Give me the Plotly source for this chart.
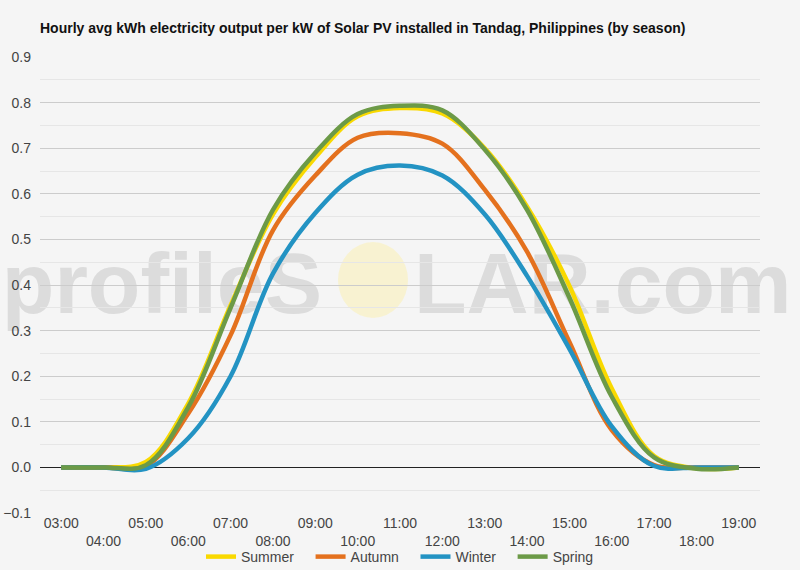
import plotly.graph_objects as go

hours = ["03:00", "04:00", "05:00", "06:00", "07:00", "08:00", "09:00", "10:00", "11:00",
         "12:00", "13:00", "14:00", "15:00", "16:00", "17:00", "18:00", "19:00"]
summer = [0, 0, 0.012, 0.14, 0.355, 0.555, 0.68, 0.77, 0.788, 0.776, 0.70, 0.572, 0.398, 0.173, 0.025, -0.002, 0]
autumn = [0, 0, 0.003, 0.118, 0.29, 0.52, 0.64, 0.723, 0.733, 0.71, 0.609, 0.473, 0.275, 0.082, 0.005, 0, 0]
winter = [0, 0, -0.003, 0.064, 0.2, 0.425, 0.558, 0.642, 0.662, 0.64, 0.555, 0.42, 0.26, 0.09, 0.003, 0, 0]
spring = [0, 0, 0.005, 0.132, 0.35, 0.565, 0.69, 0.775, 0.793, 0.783, 0.697, 0.565, 0.372, 0.155, 0.022, -0.003, 0]

series = [("Summer", summer, "#F9D900"), ("Autumn", autumn, "#E4711E"),
          ("Winter", winter, "#2393C3"), ("Spring", spring, "#6C9A47")]

tick_text = [h if i % 2 == 0 else "<br>" + h for i, h in enumerate(hours)]

fig = go.Figure()
for i, (name, vals, col) in enumerate(series):
    label = name + ("\u00a0\u00a0\u00a0" if i < len(series) - 1 else "")
    fig.add_trace(go.Scatter(x=hours, y=vals, name=label, mode="lines",
                             line=dict(color=col, width=4.5, shape="spline", smoothing=1.0)))

font_family = "Arial, Liberation Sans, sans-serif"
W, H = 800, 570
L, R, T, B = 40, 40, 57, 57
PW, PH = W - L - R, H - T - B


def px(x):
    return (x - L) / PW


def py(y):
    return (H - B - y) / PH


fig.update_layout(
    width=W, height=H,
    margin=dict(l=L, r=R, t=T, b=B, autoexpand=False),
    paper_bgcolor="#F5F5F5", plot_bgcolor="#F5F5F5",
    font=dict(family=font_family, size=14, color="#444"),
    title=dict(text="<b>Hourly avg kWh electricity output per kW of Solar PV installed in Tandag, Philippines (by season)</b>",
               x=40/W, xanchor="left", y=1-28/H, yanchor="middle",
               font=dict(size=14, color="#111", family=font_family)),
    showlegend=True,
    legend=dict(orientation="h", x=0.5, xanchor="center", yref="container", y=1-557/H, yanchor="middle",
                font=dict(size=14, color="#444"), bgcolor="rgba(0,0,0,0)", itemwidth=30,
                tracegroupgap=0),
    xaxis=dict(type="category", range=[-0.5, 16.5], showgrid=False, zeroline=False,
               showline=False, tickmode="array", tickvals=hours, ticktext=tick_text,
               tickfont=dict(size=14, color="#444"), automargin=False, ticks=""),
    yaxis=dict(range=[-0.1, 0.9], dtick=0.1, tick0=0, tickformat=".1f",
               showgrid=True, gridcolor="#CCCCCC", gridwidth=1,
               minor=dict(dtick=0.05, showgrid=True, gridcolor="#E6E6E6", gridwidth=1),
               zeroline=True, zerolinecolor="#222", zerolinewidth=1.2,
               showline=False, tickfont=dict(size=14, color="#444"), automargin=False,
               ticklabelstandoff=8, ticks=""),
)

# watermark (behind the traces)
wm_color = "#DCDCDC"
fig.add_shape(type="rect", xref="paper", yref="paper", layer="below",
              x0=px(5), x1=px(328), y0=py(322), y1=py(228),
              line=dict(width=0), fillcolor="rgba(0,0,0,0)",
              label=dict(text="<b>profileS</b>", textposition="middle right",
                         font=dict(size=86, color=wm_color, family=font_family)))
fig.add_shape(type="circle", xref="paper", yref="paper", layer="below",
              x0=px(338), x1=px(408), y0=py(318), y1=py(242),
              line=dict(width=0), fillcolor="rgba(248,242,205,0.9)")
fig.add_shape(type="rect", xref="paper", yref="paper", layer="below",
              x0=px(408), x1=px(795), y0=py(322), y1=py(228),
              line=dict(width=0), fillcolor="rgba(0,0,0,0)",
              label=dict(text="<b>LAR.com</b>", textposition="middle left",
                         font=dict(size=86, color=wm_color, family=font_family)))

fig.write_html("out.html")
